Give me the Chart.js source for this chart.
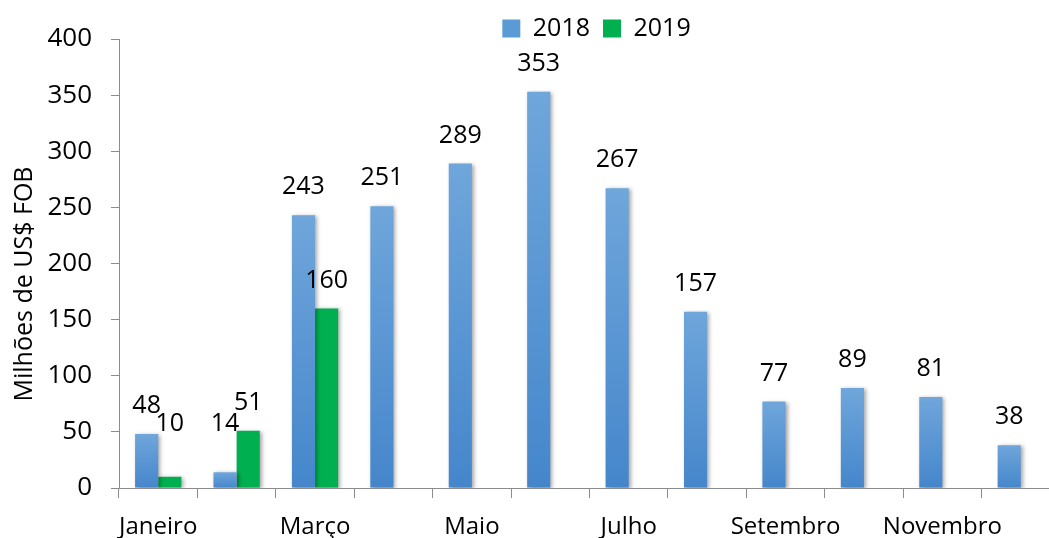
<!DOCTYPE html>
<html>
<head>
<meta charset="utf-8">
<script src="https://cdn.jsdelivr.net/npm/chart.js@4/dist/chart.umd.min.js"></script>
<style>
  html, body { margin: 0; padding: 0; background: #ffffff; overflow: hidden; }
  #wrap { width: 1049px; height: 538px; overflow: hidden; position: relative; }
  canvas { display: block; }
</style>
</head>
<body>
<div id="wrap"><canvas id="c" width="1080" height="538"></canvas></div>
<script>
const months = ["Janeiro","Fevereiro","Março","Abril","Maio","Junho","Julho","Agosto","Setembro","Outubro","Novembro","Dezembro"];
const values2018 = [48, 14, 243, 251, 289, 353, 267, 157, 77, 89, 81, 38];
const values2019 = [10, 51, 160, null, null, null, null, null, null, null, null, null];
const yTicks = [0, 50, 100, 150, 200, 250, 300, 350, 400];
const yTitle = "Milhões de US$ FOB";
const seriesNames = ["2018", "2019"];

const FONT = "'Open Sans', sans-serif";

function blueGradient(context) {
  const chart = context.chart;
  if (!chart.chartArea || !chart.scales || !chart.scales.y) return '#5b9bd5';
  const v = context.raw;
  if (v == null) return '#5b9bd5';
  const y = chart.scales.y;
  const top = y.getPixelForValue(v);
  const base = y.getPixelForValue(0);
  const g = chart.ctx.createLinearGradient(0, top, 0, base);
  g.addColorStop(0, '#6fa6db');
  g.addColorStop(1, '#4586cb');
  return g;
}

const legendTrim = {
  id: 'legendTrim',
  afterInit(chart) {
    const lg = chart.legend;
    if (!lg || lg._trimmed) return;
    const origFit = lg.fit.bind(lg);
    lg.fit = function() { origFit(); this.height -= 12; };
    lg._trimmed = true;
  },
  afterLayout(chart) {
    const lg = chart.legend;
    if (!lg) return;
    lg.left += 7;
    lg.right += 7;
    lg.bottom += 20;
    lg.height += 20;
  }
};

const barStyle = {
  id: 'barStyle',
  beforeDatasetsDraw(chart) {
    const ctx = chart.ctx;
    ctx.save();
    ctx.shadowColor = 'rgba(0,0,0,0.35)';
    ctx.shadowBlur = 4;
    ctx.shadowOffsetX = 2;
    ctx.shadowOffsetY = 1;
  },
  afterDatasetsDraw(chart) {
    const ctx = chart.ctx;
    ctx.restore();
    ctx.save();
    ctx.font = "25px " + FONT;
    ctx.fillStyle = '#000000';
    ctx.textAlign = 'center';
    ctx.textBaseline = 'middle';
    chart.data.datasets.forEach((ds, di) => {
      const meta = chart.getDatasetMeta(di);
      meta.data.forEach((el, i) => {
        const v = ds.data[i];
        if (v == null) return;
        const y = Math.min(el.y - 28, el.base - 64);
        ctx.fillText(String(v), el.x, y);
      });
    });
    ctx.restore();
  }
};

const yTitlePlugin = {
  id: 'yTitlePlugin',
  afterDraw(chart) {
    const ctx = chart.ctx;
    ctx.save();
    ctx.translate(25, 284);
    ctx.rotate(-Math.PI / 2);
    ctx.font = "25px " + FONT;
    ctx.fillStyle = '#000000';
    ctx.textAlign = 'center';
    ctx.textBaseline = 'middle';
    ctx.fillText(yTitle, 0, 0);
    ctx.restore();
  }
};

new Chart(document.getElementById('c'), {
  type: 'bar',
  data: {
    labels: months,
    datasets: [
      { label: seriesNames[0], data: values2018, backgroundColor: blueGradient, borderWidth: 0 },
      { label: seriesNames[1], data: values2019, backgroundColor: '#00b050', borderWidth: 0 }
    ]
  },
  options: {
    responsive: false,
    animation: false,
    events: [],
    layout: { padding: { top: 3, right: 20, left: 0, bottom: 0 } },
    datasets: { bar: { categoryPercentage: 0.59, barPercentage: 1.0, grouped: true, skipNull: false } },
    plugins: {
      legend: {
        display: true,
        position: 'top',
        fullSize: false,
        labels: {
          boxWidth: 18,
          boxHeight: 18,
          padding: 13,
          color: '#000000',
          font: { family: FONT, size: 25 },
          generateLabels(chart) {
            return chart.data.datasets.map((ds, i) => ({
              text: ds.label,
              fillStyle: i === 0 ? '#5b9bd5' : '#00b050',
              strokeStyle: 'rgba(0,0,0,0)',
              lineWidth: 0,
              datasetIndex: i,
              hidden: false
            }));
          }
        }
      },
      tooltip: { enabled: false }
    },
    scales: {
      x: {
        offset: true,
        grid: { display: true, offset: true, drawOnChartArea: false, drawTicks: true, tickLength: 10, color: '#8c8c8c', lineWidth: 1 },
        border: { display: true, color: '#8c8c8c', width: 1 },
        ticks: {
          autoSkip: false,
          maxRotation: 0,
          minRotation: 0,
          padding: 15,
          color: '#000000',
          font: { family: FONT, size: 24 },
          callback: function(val, idx) { return idx % 2 === 0 ? months[idx] : ''; }
        },
        afterFit(scale) { scale.height = 50; }
      },
      y: {
        min: 0,
        max: 400,
        afterBuildTicks(scale) { scale.ticks = yTicks.map(v => ({ value: v })); },
        grid: { display: true, drawOnChartArea: false, drawTicks: true, tickLength: 8, color: '#8c8c8c', lineWidth: 1 },
        border: { display: true, color: '#8c8c8c', width: 1 },
        ticks: {
          padding: 19,
          color: '#000000',
          font: { family: FONT, size: 26 }
        },
        afterFit(scale) { scale.width = 119; }
      }
    }
  },
  plugins: [legendTrim, barStyle, yTitlePlugin]
});
</script>
</body>
</html>
